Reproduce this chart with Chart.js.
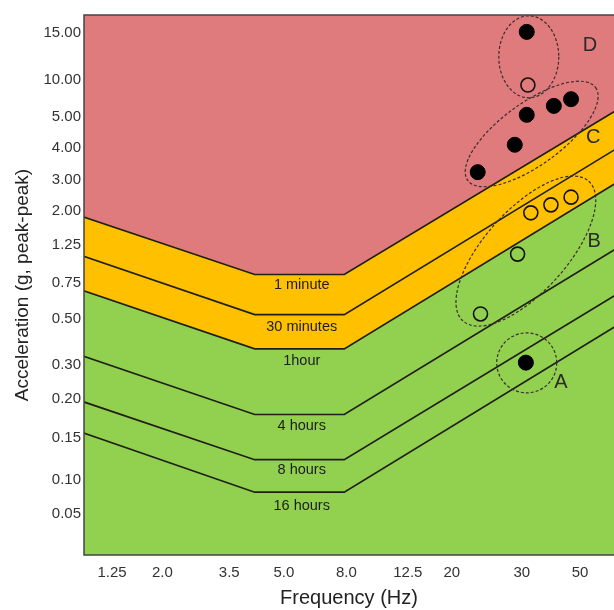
<!DOCTYPE html>
<html>
<head>
<meta charset="utf-8">
<title>Vibration exposure boundaries</title>
<script src="https://cdn.jsdelivr.net/npm/chart.js@4.4.1/dist/chart.umd.min.js"></script>
<style>
  html, body { margin: 0; padding: 0; background: #fff; }
  #chart { display: block; }
</style>
</head>
<body>
<canvas id="chart" width="614" height="610"></canvas>
<script>
// The axes in the figure are hand spaced, so every tick gets its own slot (0-10 axis units)
const xTickLabels = ["1.25", "2.0", "3.5", "5.0", "8.0", "12.5", "20", "30", "50"];
const xTickHz = [1.25, 2, 3.5, 5, 8, 12.5, 20, 30, 50];
const xTickPos = [0.53, 1.48, 2.74, 3.77, 4.95, 6.11, 6.94, 8.26, 9.36];

const yTickLabels = ["15.00", "10.00", "5.00", "4.00", "3.00", "2.00", "1.25", "0.75", "0.50", "0.30", "0.20", "0.15", "0.10", "0.05"];
const yTickG = [15, 10, 5, 4, 3, 2, 1.25, 0.75, 0.5, 0.3, 0.2, 0.15, 0.1, 0.05];
const yTickPos = [9.67, 8.80, 8.11, 7.54, 6.94, 6.37, 5.74, 5.04, 4.37, 3.52, 2.89, 2.17, 1.39, 0.76];

// exposure boundaries (g) at these frequencies (Hz)
const bandHz = [0.8, 4.2, 7.9, 65];
const oneMinute = [1.88, 0.86, 0.86, 6.5];
const thirtyMinutes = [1.11, 0.53, 0.53, 4.12];
const oneHour = [0.70, 0.37, 0.37, 3.06];
const fourHours = [0.34, 0.18, 0.18, 1.27];
const eightHours = [0.197, 0.124, 0.124, 0.70];
const sixteenHours = [0.157, 0.082, 0.082, 0.49];

const bandNames = ["1 minute", "30 minutes", "1hour", "4 hours", "8 hours", "16 hours"];
const bandLabelHz = 5.86;
const bandLabelG = [0.736, 0.465, 0.317, 0.165, 0.112, 0.062];

// measurements
const filledHz = [31.7, 31.7, 41.0, 46.9, 29.0, 23.7, 31.4];
const filledG = [15.1, 5.3, 6.5, 7.4, 4.1, 3.25, 0.31];
const openHz = [32.1, 33.1, 40.0, 46.9, 29.4, 24.1];
const openG = [9.3, 1.96, 2.2, 2.45, 1.13, 0.535];

// groups (dashed outlines) and their letters
const groupNames = ["D", "C", "B", "A"];
const groupHz = [32.4, 33.4, 31.4, 31.7];
const groupG = [12.45, 4.45, 1.17, 0.309];
const letterHz = [53.4, 54.5, 54.8, 43.4];
const letterG = [13.6, 4.35, 1.32, 0.247];
const groupRx = [30, 79, 94, 30];
const groupRy = [41, 31, 41, 30];
const groupAngle = [0, -36, -48, 0];

const RED = "#E07B7D";
const ORANGE = "#FFC000";
const GREEN = "#92D050";
const FONT = "'Liberation Sans', Arial, sans-serif";

function interp(v, vals, pos) {
  const n = vals.length;
  const asc = vals[n - 1] > vals[0];
  let i = 0;
  for (i = 0; i < n - 2; i++) {
    if (asc ? v <= vals[i + 1] : v >= vals[i + 1]) break;
  }
  const t = (v - vals[i]) / (vals[i + 1] - vals[i]);
  return pos[i] + t * (pos[i + 1] - pos[i]);
}
const toX = (hz) => interp(hz, xTickHz, xTickPos);
const toY = (g) => interp(g, yTickG, yTickPos);

function boundary(label, values, fill, color) {
  return {
    label: label,
    order: 1,
    data: bandHz.map((hz, i) => ({ x: toX(hz), y: toY(values[i]) })),
    showLine: true,
    tension: 0,
    pointRadius: 0,
    borderColor: "#1f1f16",
    borderWidth: 1.7,
    fill: fill,
    backgroundColor: color || "transparent",
  };
}

function points(label, hz, g, filled) {
  return {
    label: label,
    order: 0,
    data: hz.map((f, i) => ({ x: toX(f), y: toY(g[i]) })),
    showLine: false,
    fill: false,
    pointRadius: filled ? 7.5 : 7,
    pointBorderWidth: filled ? 1 : 1.6,
    pointBackgroundColor: filled ? "#000" : "rgba(0,0,0,0)",
    pointBorderColor: filled ? "#000" : "#111",
    backgroundColor: filled ? "#000" : "rgba(0,0,0,0)",
    borderColor: "#111",
  };
}

// green zone behind everything
const greenZone = {
  id: "greenZone",
  beforeDatasetsDraw(chart) {
    const { ctx, chartArea: a } = chart;
    ctx.save();
    ctx.fillStyle = GREEN;
    ctx.fillRect(a.left, a.top, a.right - a.left, a.bottom - a.top);
    ctx.restore();
  },
};

const annotations = {
  id: "annotations",
  afterDatasetsDraw(chart) {
    const { ctx, chartArea: a } = chart;
    const x = chart.scales.x;
    const y = chart.scales.y;
    ctx.save();
    ctx.beginPath();
    ctx.rect(a.left, a.top, a.right - a.left, a.bottom - a.top);
    ctx.clip();

    // dashed group outlines
    ctx.setLineDash([3, 2]);
    ctx.lineWidth = 1.2;
    ctx.strokeStyle = "#3a2c2c";
    groupNames.forEach((name, i) => {
      const cx = x.getPixelForValue(toX(groupHz[i]));
      const cy = y.getPixelForValue(toY(groupG[i]));
      ctx.beginPath();
      ctx.ellipse(cx, cy, groupRx[i], groupRy[i], (groupAngle[i] * Math.PI) / 180, 0, Math.PI * 2);
      ctx.stroke();
    });
    ctx.setLineDash([]);

    ctx.textAlign = "center";
    ctx.textBaseline = "middle";
    ctx.fillStyle = "#2a2a2a";
    ctx.font = "20px " + FONT;
    groupNames.forEach((name, i) => {
      ctx.fillText(name, x.getPixelForValue(toX(letterHz[i])), y.getPixelForValue(toY(letterG[i])));
    });

    ctx.fillStyle = "#1d1d1d";
    ctx.font = "14.5px " + FONT;
    bandNames.forEach((name, i) => {
      ctx.fillText(name, x.getPixelForValue(toX(bandLabelHz)), y.getPixelForValue(toY(bandLabelG[i])));
    });
    ctx.restore();

    // frame
    ctx.save();
    ctx.strokeStyle = "#444";
    ctx.lineWidth = 1.5;
    ctx.beginPath();
    ctx.moveTo(a.right + 2, a.top);
    ctx.lineTo(a.left, a.top);
    ctx.lineTo(a.left, a.bottom);
    ctx.lineTo(a.right + 2, a.bottom);
    ctx.stroke();
    ctx.restore();
  },
};

new Chart(document.getElementById("chart"), {
  type: "scatter",
  data: {
    datasets: [
      boundary("1 minute", oneMinute, "end", RED),
      boundary("30 minutes", thirtyMinutes, false),
      boundary("1 hour", oneHour, "-2", ORANGE),
      boundary("4 hours", fourHours, false),
      boundary("8 hours", eightHours, false),
      boundary("16 hours", sixteenHours, false),
      points("open", openHz, openG, false),
      points("filled", filledHz, filledG, true),
    ],
  },
  options: {
    responsive: false,
    animation: false,
    layout: { autoPadding: false, padding: { top: 15, right: 0, bottom: 0, left: 0 } },
    plugins: {
      legend: { display: false },
      tooltip: { enabled: false },
    },
    scales: {
      x: {
        type: "linear",
        min: 0,
        max: 10,
        afterBuildTicks: (scale) => {
          scale.ticks = xTickPos.map((v) => ({ value: v }));
        },
        afterFit: (scale) => {
          scale.height = 55;
          scale.paddingLeft = 0;
          scale.paddingRight = 0;
        },
        grid: { display: false, drawTicks: false },
        border: { display: false },
        ticks: {
          autoSkip: false,
          maxRotation: 0,
          padding: 9,
          color: "#333",
          font: { family: FONT, size: 15 },
          callback: (v, i) => xTickLabels[i],
        },
        title: {
          display: true,
          text: "Frequency (Hz)",
          color: "#222",
          font: { family: FONT, size: 20 },
          padding: { top: 0, bottom: 0 },
        },
      },
      y: {
        type: "linear",
        min: 0,
        max: 10,
        afterBuildTicks: (scale) => {
          scale.ticks = yTickPos.map((v) => ({ value: v }));
        },
        afterFit: (scale) => {
          scale.width = 84;
          scale.paddingTop = 0;
          scale.paddingBottom = 0;
        },
        grid: { display: false, drawTicks: false },
        border: { display: false },
        ticks: {
          autoSkip: false,
          padding: 3,
          color: "#333",
          font: { family: FONT, size: 15 },
          callback: (v, i) => yTickLabels[i],
        },
        title: {
          display: true,
          text: "Acceleration (g, peak-peak)",
          color: "#222",
          font: { family: FONT, size: 19 },
          padding: { top: 11, bottom: 0 },
        },
      },
    },
  },
  plugins: [greenZone, annotations],
});
</script>
</body>
</html>
